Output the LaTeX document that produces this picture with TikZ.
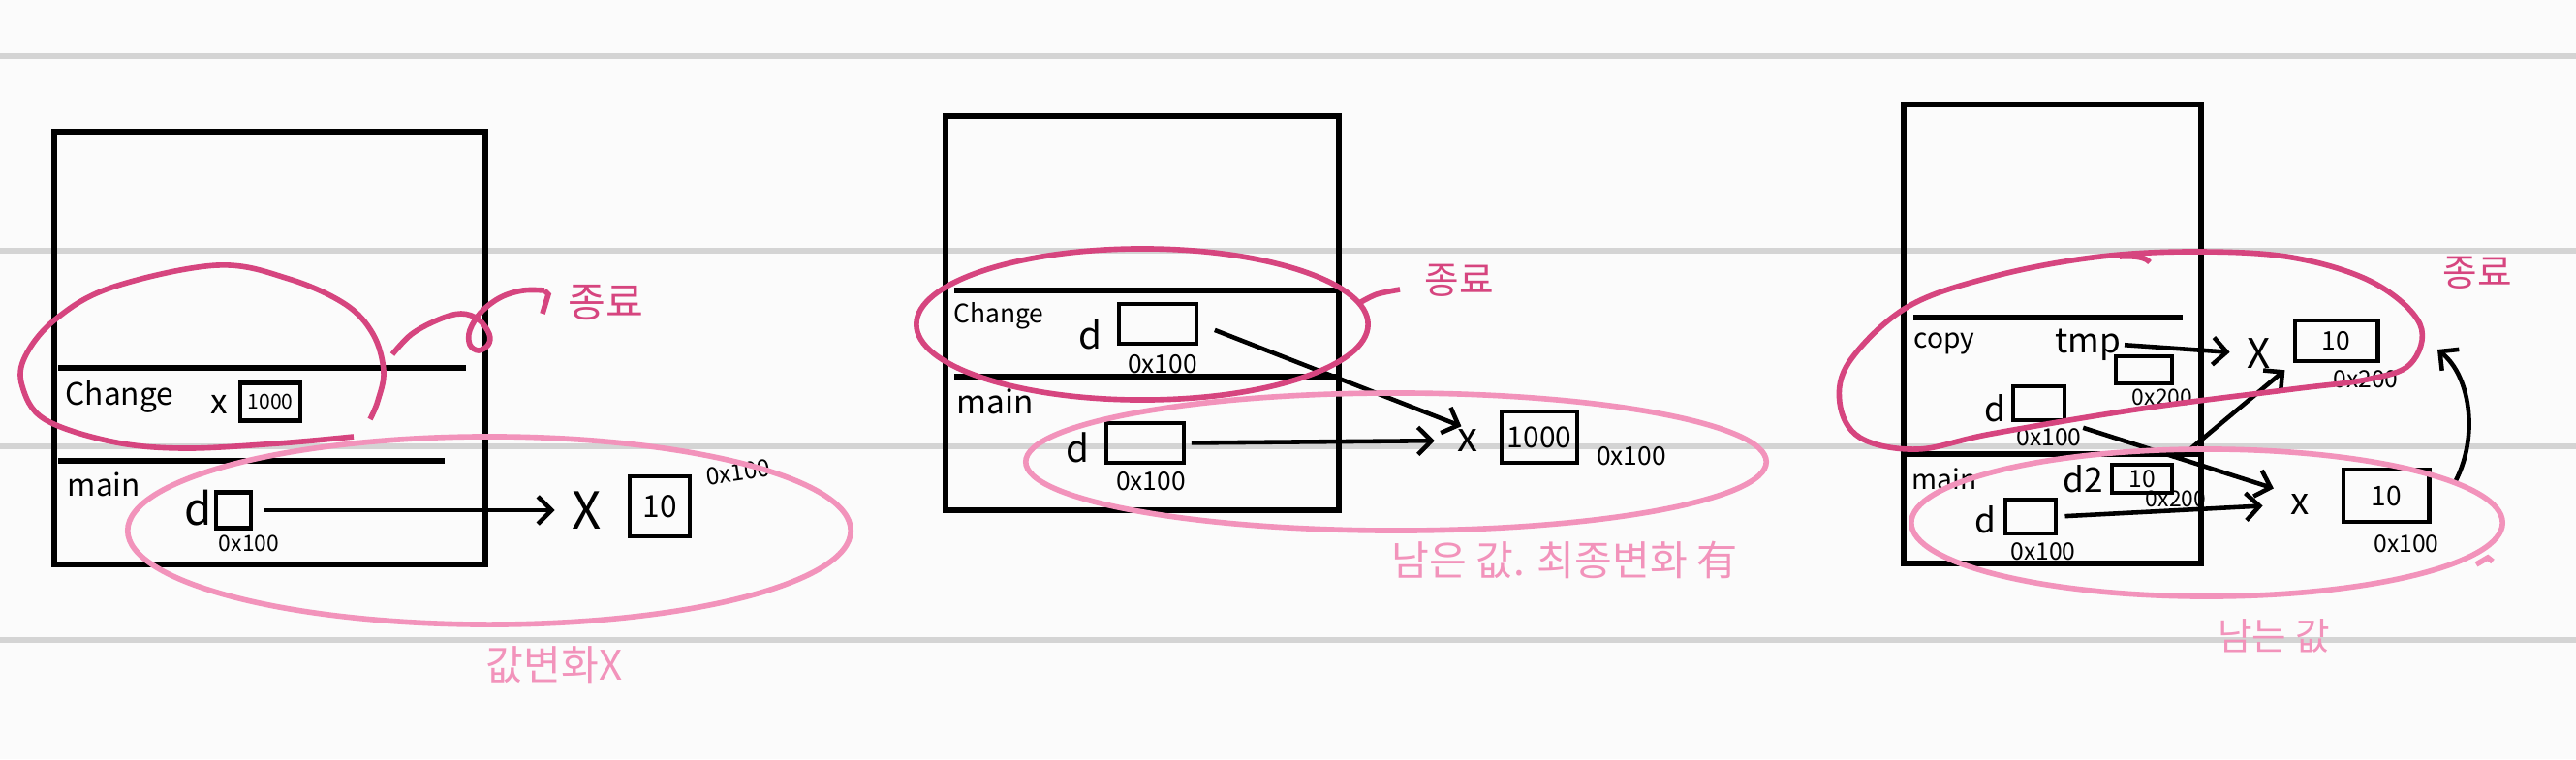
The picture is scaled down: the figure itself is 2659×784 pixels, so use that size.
\documentclass[tikz,border=0pt]{standalone}
\usepackage{fontspec}
\setmainfont{Noto Sans CJK KR}
\usetikzlibrary{arrows.meta}
\definecolor{bgc}{HTML}{FBFBFB}
\definecolor{rulec}{HTML}{D4D4D4}
\definecolor{pinkd}{HTML}{D6457F}
\definecolor{pinkl}{HTML}{F293BB}
\newcommand\myfs[1]{\fontsize{#1}{#1}\selectfont}
\tikzset{
  frame/.style={line width=1.5pt, black},
  vbox/.style={draw, line width=1.4pt, inner sep=0pt},
  lbl/.style={inner sep=0pt, anchor=west},
  nm/.style={inner sep=0pt},
  addr/.style={inner sep=0pt},
  arr/.style={line width=1.3pt, -{Straight Barb[length=4pt,width=8pt,line width=1.3pt]}},
  hi/.style={pinkd, line width=1.6pt},
  lo/.style={pinkl, line width=1.6pt},
  rl/.style={rulec, line width=1.8pt},
  kd/.style={pinkd, inner sep=0pt},
  kl/.style={pinkl, inner sep=0pt},
}
\begin{document}
\begin{tikzpicture}[x=0.01cm,y=-0.01cm]
\fill[bgc] (0,0) rectangle (2659,784);
\useasboundingbox (0,0) rectangle (2659,784);
\foreach \yy in {58,259,461,661} \draw[rl] (0,\yy) -- (2659,\yy);

% ================= Panel 1 =================
\draw[frame] (56,136) rectangle (501,583);
\draw[frame] (60,380) -- (481,380);
\draw[frame] (60,476) -- (459,476);
\node[lbl, font=\myfs{9}] (ch1) at (67,410) {Change};
\node[nm, font=\myfs{10}] (x1) at (226,418) {x};
\node[vbox, minimum width=0.62cm, minimum height=0.39cm, font=\myfs{6}] (b1) at (279,415) {1000};
\node[lbl, font=\myfs{9}] (m1) at (69,500) {main};
\node[nm, font=\myfs{13}] (d1) at (205,525) {d};
\node[vbox, minimum width=0.36cm, minimum height=0.37cm] (db1) at (241,527) {};
\node[addr, font=\myfs{6.5}] (a1) at (257,561) {0x100};
\node[nm, font=\myfs{15}] (X1) at (606,527) {X};
\node[vbox, minimum width=0.62cm, minimum height=0.62cm, font=\myfs{9}] (vb1) at (681,523) {10};
\node[addr, font=\myfs{7}, rotate=8] (a1b) at (762,488) {0x100};
\draw[arr, shorten <=3pt, shorten >=5pt] (db1.east) -- (X1.west);

\draw[hi] plot[smooth, tension=0.6] coordinates {(382,433) (390,414) (396,383) (385,345) (356,314) (298,288) (224,274) (115,297) (57,330) (26,368) (23,399) (46,433) (115,456) (189,463) (287,458) (365,451)};
\draw[hi] plot[smooth, tension=0.6] coordinates {(405,366) (425,345) (453,330) (476,324) (494,330) (505,345) (504,356) (494,362) (485,356) (485,341) (497,322) (517,307) (540,300) (562,300)};
\coordinate (e1) at (562,300);
\draw[hi] (e1) -- (566,304) -- (560,324);
\node[kd, font=\myfs{12}] (end1) at (625,313) {종료};
\draw[lo] (505,548) ellipse [x radius=3.73cm, y radius=0.97cm];
\node[kl, font=\myfs{12}] (t1) at (572,687) {값변화X};

% ================= Panel 2 =================
\draw[frame] (976,120) rectangle (1382,527);
\draw[frame] (985,300) -- (1379,300);
\draw[frame] (985,389) -- (1379,389);
\node[lbl, font=\myfs{7.5}] (ch2) at (984,326) {Change};
\node[nm, font=\myfs{11}] (d2c) at (1125,345) {d};
\node[vbox, minimum width=0.80cm, minimum height=0.41cm] (db2c) at (1195,334.5) {};
\node[addr, font=\myfs{7.5}] (a2c) at (1200,376) {0x100};
\node[lbl, font=\myfs{9.5}] (m2) at (987,415) {main};
\node[nm, font=\myfs{11}] (d2m) at (1112,462) {d};
\node[vbox, minimum width=0.80cm, minimum height=0.41cm] (db2m) at (1182,457.5) {};
\node[addr, font=\myfs{7.5}] (a2m) at (1188,497) {0x100};
\node[nm, font=\myfs{12}] (x2) at (1515,455) {x};
\node[vbox, minimum width=0.78cm, minimum height=0.53cm, font=\myfs{8.5}] (vb2) at (1589,451.5) {1000};
\node[addr, font=\myfs{7.5}] (a2x) at (1684,471) {0x100};
\draw[arr, shorten <=1.5pt, shorten >=6.5pt] (db2m.east) -- (x2.west);
\draw[arr, shorten <=5pt, shorten >=2pt] (db2c.east) -- (x2.north);

\draw[hi] (1179,335) ellipse [x radius=2.33cm, y radius=0.78cm];
\draw[hi] plot[smooth] coordinates {(1403,313) (1421,304) (1445,299)};
\node[kd, font=\myfs{11}] (end2) at (1506,290) {종료};
\draw[lo] (1441,477) ellipse [x radius=3.82cm, y radius=0.71cm];
\node[kl, font=\myfs{12}] (t2) at (1615,578) {남은 값. 최종변화 有};

% ================= Panel 3 =================
\draw[frame] (1965,108) rectangle (2272,582);
\draw[frame] (1975,328) -- (2253,328);
\draw[frame] (1965,469) -- (2272,469);
\node[lbl, font=\myfs{8}] (cp3) at (1975,355) {copy};
\node[nm, font=\myfs{10}] (tmp3) at (2155,356) {tmp};
\node[vbox, minimum width=0.58cm, minimum height=0.28cm] (tb3) at (2213,382) {};
\node[addr, font=\myfs{6.5}] (a3t) at (2232,410) {0x200};
\node[nm, font=\myfs{12}] (X3) at (2332,365) {X};
\node[vbox, minimum width=0.85cm, minimum height=0.42cm, font=\myfs{7.5}] (vb3a) at (2411.5,352) {10};
\node[addr, font=\myfs{7}] (a3a) at (2442,392) {0x200};
\node[nm, font=\myfs{10}] (d3c) at (2059,422) {d};
\node[vbox, minimum width=0.53cm, minimum height=0.35cm] (db3c) at (2104.5,416.5) {};
\node[addr, font=\myfs{7}] (a3c) at (2115,452) {0x100};
\node[lbl, font=\myfs{8}] (m3) at (1973,495) {main};
\node[nm, font=\myfs{10}] (d23) at (2150,495) {d2};
\node[vbox, minimum width=0.62cm, minimum height=0.29cm, font=\myfs{7}] (db3d) at (2211,494.5) {10};
\node[addr, font=\myfs{6.5}] (a3d) at (2246,515) {0x200};
\node[nm, font=\myfs{10}] (d3m) at (2049,537) {d};
\node[vbox, minimum width=0.52cm, minimum height=0.35cm] (db3m) at (2096,533.5) {};
\node[addr, font=\myfs{7}] (a3m) at (2109,570) {0x100};
\node[nm, font=\myfs{11}] (x3) at (2374,521) {x};
\node[vbox, minimum width=0.88cm, minimum height=0.54cm, font=\myfs{8}] (vb3b) at (2463,512) {10};
\node[addr, font=\myfs{7}] (a3b) at (2484,562) {0x100};
\coordinate (up3) at (2516,361);
\draw[arr, shorten <=1pt, shorten >=5pt] (tmp3.east) -- (X3.west);
\draw[arr, shorten <=2pt, shorten >=3pt] (db3d.north east) -- (vb3a.south west);
\draw[arr, shorten <=5pt, shorten >=5pt] (db3c.south east) -- (x3.north west);
\draw[arr, shorten <=2pt, shorten >=8pt] (db3m.east) -- (x3.west);
\draw[arr] ([shift={(24,-13)}]vb3b.east) .. controls (2558,455) and (2552,390) .. (up3);

\draw[hi] plot[smooth cycle, tension=0.6] coordinates {(1899,416) (1910,372) (1969,317) (2056,286) (2160,266) (2263,260) (2366,266) (2450,292) (2498,335) (2488,376) (2443,392) (2366,402) (2211,422) (2056,448) (1979,464) (1920,452)};
\draw[hi] (2188,265) .. controls (2205,264) and (2215,266) .. (2219,271);
\node[kd, font=\myfs{11}] (end3) at (2557,282) {종료};
\draw[lo] (2278,540) ellipse [x radius=3.05cm, y radius=0.76cm];
\draw[lo] (2556,583) -- (2568,576) -- (2573,580);
\node[kl, font=\myfs{11}] (t3) at (2347,657) {남는 값};
\end{tikzpicture}
\end{document}
